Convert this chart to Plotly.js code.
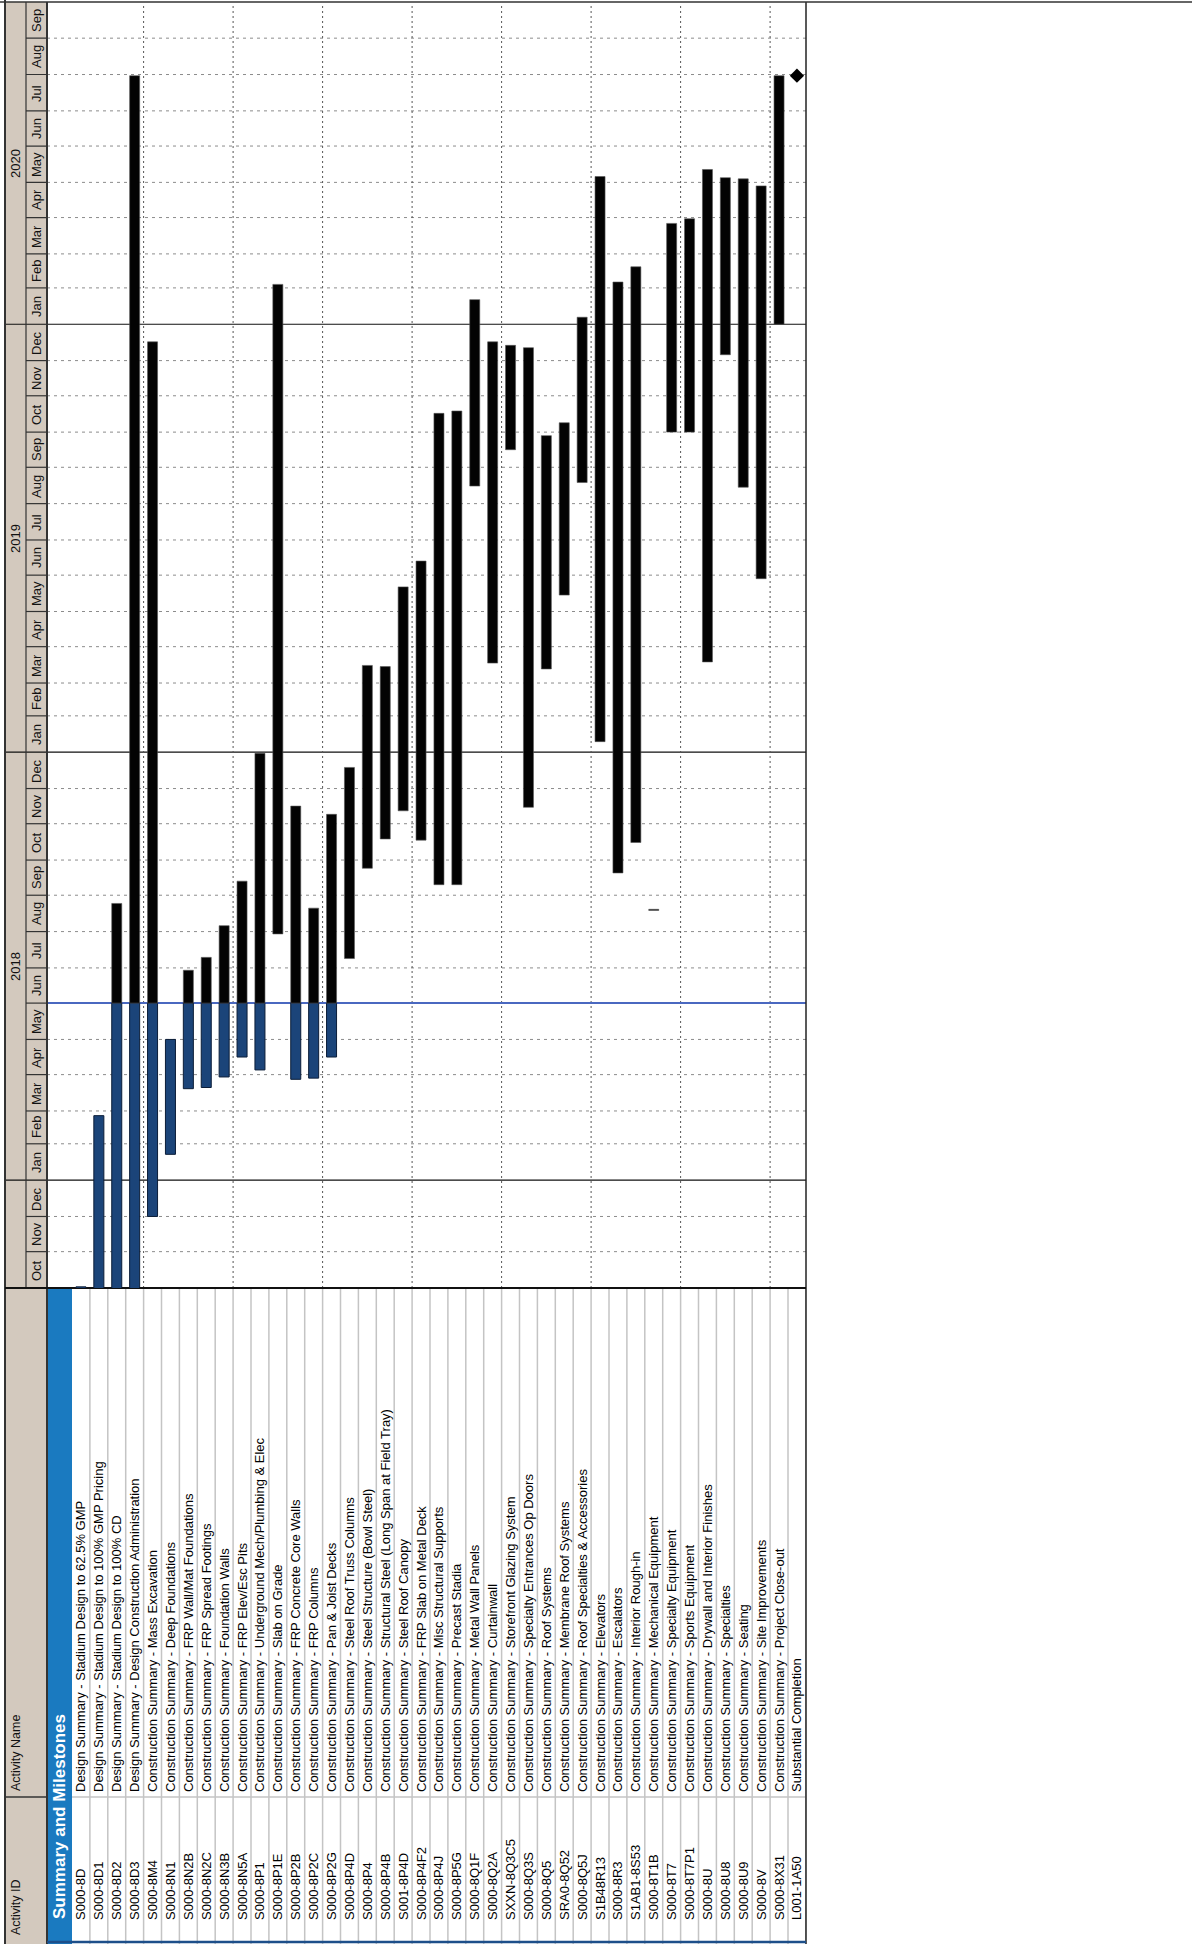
<!DOCTYPE html>
<html><head><meta charset="utf-8">
<script src="https://cdn.plot.ly/plotly-3.0.1.min.js"></script>
<style>
html,body{margin:0;padding:0;background:#fff;}
body{width:1192px;height:1944px;overflow:hidden;position:relative;}
#chart{position:absolute;left:0;top:0;width:1944px;height:1192px;transform-origin:0 0;transform:translate(0px,1944px) rotate(-90deg);}
</style></head><body><div id="chart"></div>
<script>
// ---------------- DATA ----------------
const groupTitle = 'Summary and Milestones';
const activityIds = ['S000-8D','S000-8D1','S000-8D2','S000-8D3','S000-8M4','S000-8N1','S000-8N2B','S000-8N2C','S000-8N3B','S000-8N5A','S000-8P1','S000-8P1E','S000-8P2B','S000-8P2C','S000-8P2G','S000-8P4D','S000-8P4','S000-8P4B','S001-8P4D','S000-8P4F2','S000-8P4J','S000-8P5G','S000-8Q1F','S000-8Q2A','SXXN-8Q3C5','S000-8Q3S','S000-8Q5','SRA0-8Q52','S000-8Q5J','S1B48R13','S000-8R3','S1AB1-8S53','S000-8T1B','S000-8T7','S000-8T7P1','S000-8U','S000-8U8','S000-8U9','S000-8V','S000-8X31','L001-1A50'];
const activityNames = [
 'Design Summary - Stadium Design to 62.5% GMP',
 'Design Summary - Stadium Design to 100% GMP Pricing',
 'Design Summary - Stadium Design to 100% CD',
 'Design Summary - Design Construction Administration',
 'Construction Summary - Mass Excavation',
 'Construction Summary - Deep Foundations',
 'Construction Summary - FRP Wall/Mat Foundations',
 'Construction Summary - FRP Spread Footings',
 'Construction Summary - Foundation Walls',
 'Construction Summary - FRP Elev/Esc Pits',
 'Construction Summary - Underground Mech/Plumbing & Elec',
 'Construction Summary - Slab on Grade',
 'Construction Summary - FRP Concrete Core Walls',
 'Construction Summary - FRP Columns',
 'Construction Summary - Pan & Joist Decks',
 'Construction Summary - Steel Roof Truss Columns',
 'Construction Summary - Steel Structure (Bowl Steel)',
 'Construction Summary - Structural Steel (Long Span at Field Tray)',
 'Construction Summary - Steel Roof Canopy',
 'Construction Summary - FRP Slab on Metal Deck',
 'Construction Summary - Misc Structural Supports',
 'Construction Summary - Precast Stadia',
 'Construction Summary - Metal Wall Panels',
 'Construction Summary - Curtainwall',
 'Construction Summary - Storefront Glazing System',
 'Construction Summary - Specialty Entrances Op Doors',
 'Construction Summary - Roof Systems',
 'Construction Summary - Membrane Roof Systems',
 'Construction Summary - Roof Specialties & Accessories',
 'Construction Summary - Elevators',
 'Construction Summary - Escalators',
 'Construction Summary - Interior Rough-in',
 'Construction Summary - Mechanical Equipment',
 'Construction Summary - Specialty Equipment',
 'Construction Summary - Sports Equipment',
 'Construction Summary - Drywall and Interior Finishes',
 'Construction Summary - Specialties',
 'Construction Summary - Seating',
 'Construction Summary - Site Improvements',
 'Construction Summary - Project Close-out',
 'Substantial Completion'];
const startDates = ['2017-09-01','2017-08-01','2017-08-01','2017-08-01','2017-12-01','2018-01-23','2018-03-20','2018-03-21','2018-03-30','2018-04-16','2018-04-05','2018-07-30','2018-03-28','2018-03-29','2018-04-16','2018-07-09','2018-09-24','2018-10-19','2018-11-12','2018-10-18','2018-09-10','2018-09-10','2019-08-16','2019-03-18','2019-09-16','2018-11-15','2019-03-13','2019-05-15','2019-08-19','2019-01-10','2018-09-20','2018-10-16','2018-08-19','2019-10-01','2019-10-01','2019-03-19','2019-12-06','2019-08-15','2019-05-29','2020-01-01','2020-07-31'];
const finishDates = ['2017-10-02','2018-02-25','2018-08-25','2020-07-31','2019-12-17','2018-05-01','2018-06-29','2018-07-10','2018-08-06','2018-09-13','2018-12-31','2020-02-04','2018-11-16','2018-08-21','2018-11-09','2018-12-19','2019-03-16','2019-03-15','2019-05-22','2019-06-13','2019-10-17','2019-10-19','2020-01-22','2019-12-17','2019-12-14','2019-12-12','2019-09-28','2019-10-09','2020-01-07','2020-05-06','2020-02-06','2020-02-19','2018-08-20','2020-03-27','2020-03-31','2020-05-12','2020-05-05','2020-05-04','2020-04-28','2020-07-31','2020-07-31'];
const dataDate = '2018-06-01';
const timeStart = '2017-10-01';
const timeEnd = '2020-10-01';
const monthLabels = ['Jan','Feb','Mar','Apr','May','Jun','Jul','Aug','Sep','Oct','Nov','Dec'];
const yearLabels = ['2018','2019','2020'];
const headerLabels = ['Activity ID','Activity Name'];

// ---------------- LAYOUT GEOMETRY (landscape px, rotated by CSS) ----------------
const W = 1944, H = 1192;
const PX0 = 656, PX1 = 1941, PY0 = 47, PY1 = 806;
const ROW0 = 72, ROWH = 17.9;
const FONT = 'Liberation Sans, Arial, sans-serif';
const px = lx => (lx - PX0) / (PX1 - PX0);
const py = ly => 1 - (ly - PY0) / (PY1 - PY0);
const ly2row = ly => (ly - ROW0) / ROWH + 0.5;
const yTop = ly2row(PY0), yBot = ly2row(PY1);

const ms = s => Date.parse(s + 'T00:00:00Z');
const iso = t => new Date(t).toISOString().slice(0, 10);
const DD = ms(dataDate);

// split bars into actual (before data date) and remaining
const blue = {y: [], base: [], x: []}, black = {y: [], base: [], x: []};
let msY = [], msX = [];
activityIds.forEach((id, i) => {
  const s = ms(startDates[i]), f = ms(finishDates[i]), row = i + 1;
  if (s === f) { msY.push(row); msX.push(finishDates[i]); return; }
  if (s < DD) { blue.y.push(row); blue.base.push(startDates[i]); blue.x.push(Math.min(f, DD) - s); }
  if (f > DD) { const b = Math.max(s, DD); black.y.push(row); black.base.push(iso(b)); black.x.push(f - b); }
});

const traces = [
  {type: 'bar', orientation: 'h', y: blue.y, base: blue.base, x: blue.x, width: 0.56,
   marker: {color: '#1b4479', line: {color: '#0b1d38', width: 1}}, hoverinfo: 'skip'},
  {type: 'bar', orientation: 'h', y: black.y, base: black.base, x: black.x, width: 0.56,
   marker: {color: '#030303', line: {color: '#555', width: 0.6}}, hoverinfo: 'skip'},
  {type: 'scatter', mode: 'markers', x: msX, y: msY,
   marker: {symbol: 'diamond', size: 11, color: '#000'}, hoverinfo: 'skip', cliponaxis: false}
];

const shapes = [], annotations = [];
const line = (o) => shapes.push(Object.assign({type: 'line', layer: 'below'}, o));

// header background
shapes.push({type: 'rect', layer: 'below', xref: 'paper', yref: 'paper', x0: px(0), x1: px(1942), y0: py(5), y1: py(47), fillcolor: '#d3c9be', line: {width: 0}});
// group band in table
shapes.push({type: 'rect', layer: 'below', xref: 'paper', yref: 'y', x0: px(0), x1: px(656), y0: yTop, y1: 0.5, fillcolor: '#1a7ac0', line: {width: 0}});
// table row separators
for (let k = 1; k <= activityIds.length; k++) {
  line({xref: 'paper', yref: 'y', x0: px(0), x1: px(656), y0: k + 0.5, y1: k + 0.5, line: {color: '#c4c4c4', width: 1.5}});
}
line({xref: 'paper', yref: 'y', x0: px(147), x1: px(147), y0: 0.5, y1: yBot, line: {color: '#c4c4c4', width: 1.5}});
line({xref: 'paper', yref: 'paper', x0: px(147), x1: px(147), y0: py(5), y1: py(47), line: {color: '#333', width: 1.5}});

// month / year lines
const t0 = new Date(ms(timeStart)), t1 = ms(timeEnd);
for (let d = new Date(t0); d.getTime() <= t1; d.setUTCMonth(d.getUTCMonth() + 1)) {
  const t = d.getTime(), ds = iso(t), m = d.getUTCMonth();
  if (t < t1) {
    const mid = iso(t + (Date.UTC(d.getUTCFullYear(), m + 1, 1) - t) / 2);
    annotations.push({xref: 'x', yref: 'paper', x: mid, y: py(36.5), text: monthLabels[m], showarrow: false,
      font: {family: FONT, size: 13, color: '#111'}, xanchor: 'center', yanchor: 'middle'});
  }
  if (t === ms(timeStart) || t === t1) continue;
  if (m === 0) {
    line({xref: 'x', yref: 'paper', x0: ds, x1: ds, y0: py(5), y1: py(806), line: {color: '#111', width: 1.2}});
  } else {
    line({xref: 'x', yref: 'paper', x0: ds, x1: ds, y0: py(26), y1: py(47), line: {color: '#333', width: 1.2}});
    line({xref: 'x', yref: 'paper', x0: ds, x1: ds, y0: py(47), y1: py(806), line: {color: '#8c8c8c', width: 1, dash: '3px,4px'}});
  }
}
// year labels
yearLabels.forEach(y => {
  const a = Math.max(Date.UTC(+y, 0, 1), ms(timeStart)), b = Math.min(Date.UTC(+y + 1, 0, 1), t1);
  annotations.push({xref: 'x', yref: 'paper', x: iso((a + b) / 2), y: py(15.5), text: y, showarrow: false,
    font: {family: FONT, size: 13, color: '#111'}, xanchor: 'center', yanchor: 'middle'});
});
// group lines every five rows
for (let k = 4; k < activityIds.length; k += 5) {
  line({xref: 'paper', yref: 'y', x0: 0, x1: 1, y0: k + 0.5, y1: k + 0.5, line: {color: '#555', width: 1, dash: '2px,3px'}});
}
// data date
line({xref: 'x', yref: 'paper', x0: dataDate, x1: dataDate, y0: py(47), y1: py(806), line: {color: '#4a68c0', width: 2}});

// frame lines
line({xref: 'paper', yref: 'paper', x0: px(0), x1: px(1944), y0: py(5), y1: py(5), line: {color: '#333', width: 2}});
line({xref: 'paper', yref: 'paper', x0: px(0), x1: px(1942), y0: py(47), y1: py(47), line: {color: '#333', width: 2}});
line({xref: 'paper', yref: 'paper', x0: px(656), x1: px(1942), y0: py(26), y1: py(26), line: {color: '#333', width: 1.2}});
line({xref: 'paper', yref: 'paper', x0: px(0), x1: px(1942), y0: py(806), y1: py(806), line: {color: '#222', width: 1.5}});
line({xref: 'paper', yref: 'paper', x0: px(656), x1: px(656), y0: py(5), y1: py(806), line: {color: '#111', width: 2}});
line({xref: 'paper', yref: 'paper', x0: px(1942), x1: px(1942), y0: py(0), y1: py(1192), line: {color: '#333', width: 1.5}});
line({xref: 'paper', yref: 'paper', x0: px(2), x1: px(2), y0: py(47), y1: py(806), line: {color: '#1d4f8a', width: 2.5}});

// table header texts
annotations.push({xref: 'paper', yref: 'paper', x: px(7), y: py(15.5), text: headerLabels[0], showarrow: false, xanchor: 'left', yanchor: 'middle', font: {family: FONT, size: 12.5, color: '#111'}});
annotations.push({xref: 'paper', yref: 'paper', x: px(151), y: py(15.5), text: headerLabels[1], showarrow: false, xanchor: 'left', yanchor: 'middle', font: {family: FONT, size: 12.5, color: '#111'}});
// group title
annotations.push({xref: 'paper', yref: 'y', x: px(23), y: (yTop + 0.5) / 2, text: '<b>' + groupTitle + '</b>', showarrow: false, xanchor: 'left', yanchor: 'middle', font: {family: FONT, size: 17, color: '#fff'}});
// rows
activityIds.forEach((id, i) => {
  annotations.push({xref: 'paper', yref: 'y', x: px(22), y: i + 1, text: id, showarrow: false, xanchor: 'left', yanchor: 'middle', font: {family: FONT, size: 13, color: '#000'}});
  annotations.push({xref: 'paper', yref: 'y', x: px(150), y: i + 1, text: activityNames[i], showarrow: false, xanchor: 'left', yanchor: 'middle', font: {family: FONT, size: 13, color: '#000'}});
});

const layout = {
  width: W, height: H,
  margin: {l: PX0, r: W - PX1, t: PY0, b: H - PY1, pad: 0},
  paper_bgcolor: '#fff', plot_bgcolor: '#fff',
  showlegend: false, barmode: 'overlay', bargap: 0,
  xaxis: {type: 'date', range: [timeStart, timeEnd], visible: false, fixedrange: true},
  yaxis: {range: [yBot, yTop], visible: false, fixedrange: true},
  shapes: shapes, annotations: annotations
};
Plotly.newPlot('chart', traces, layout, {staticPlot: true, displayModeBar: false});
</script></body></html>
